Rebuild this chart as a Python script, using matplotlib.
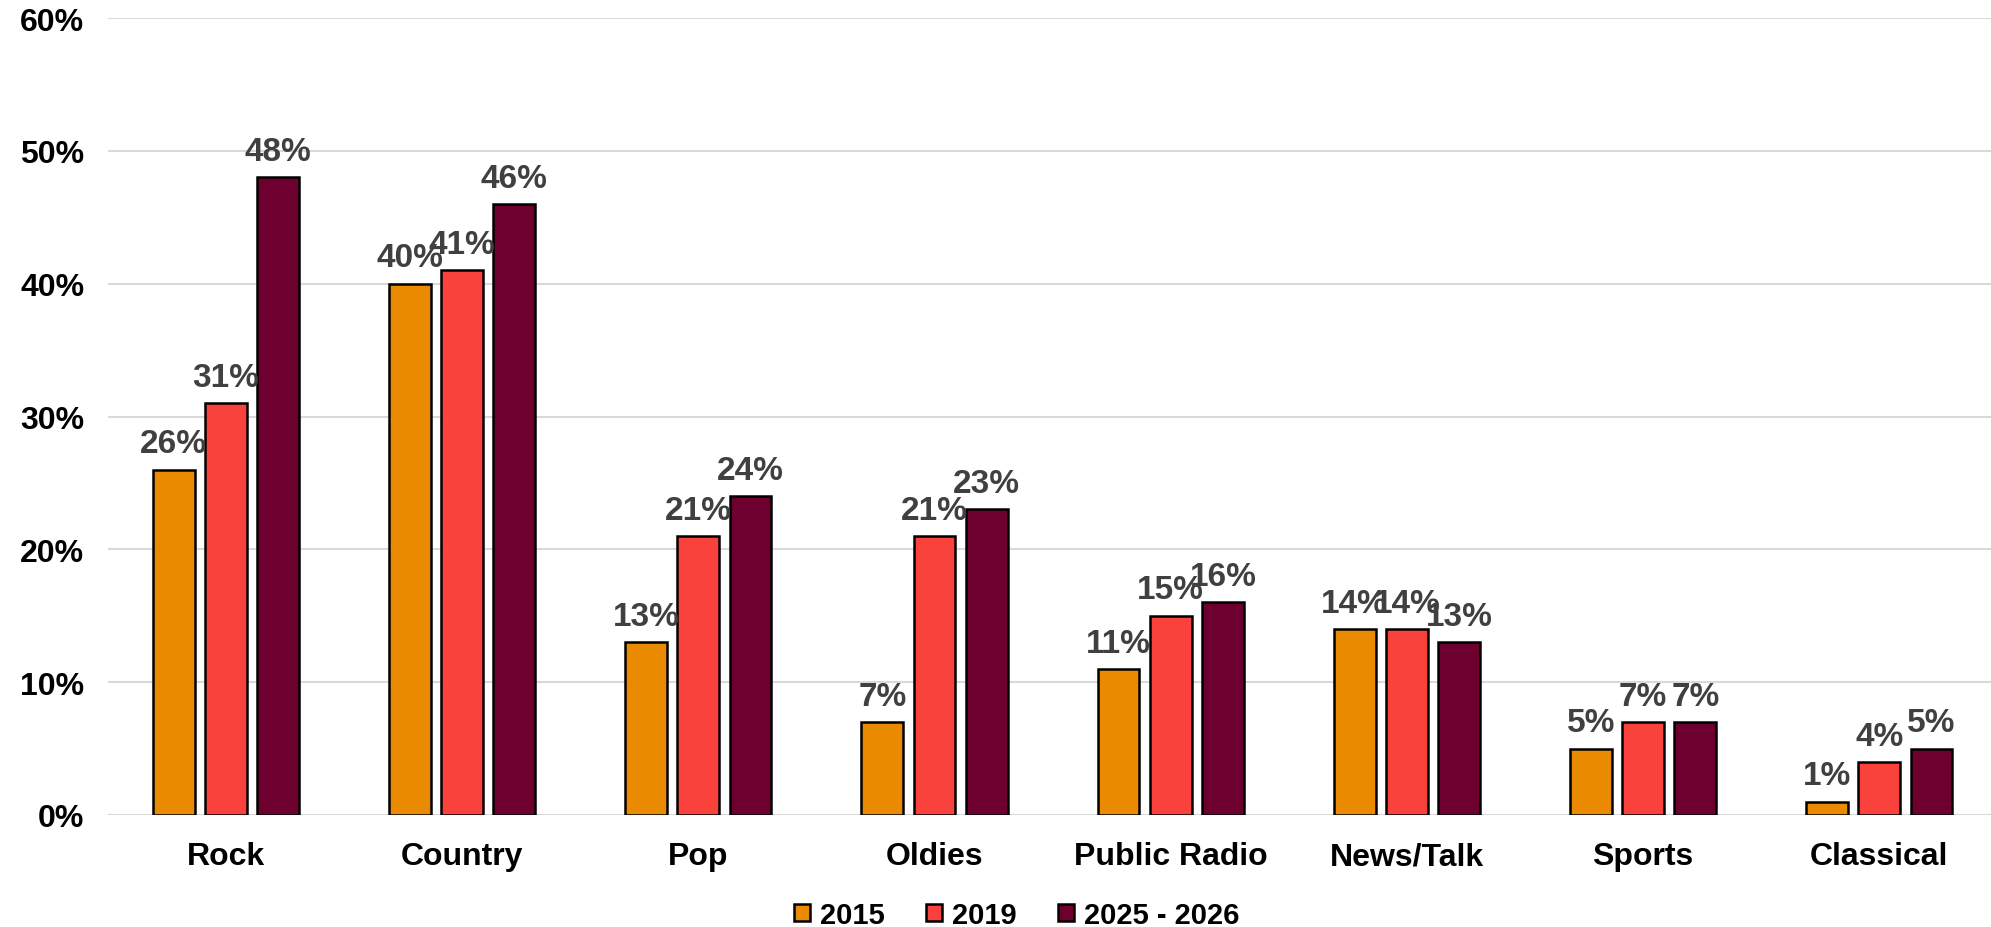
import numpy as np
import matplotlib.pyplot as plt

plt.rcParams['font.family'] = ['Liberation Sans', 'DejaVu Sans']
plt.rcParams['font.weight'] = 'bold'

genres = ["Rock", "Country", "Pop", "Oldies", "Public Radio", "News/Talk", "Sports", "Classical"]
v2015 = [26, 40, 13, 7, 11, 14, 5, 1]
v2019 = [31, 41, 21, 21, 15, 14, 7, 4]
v2025 = [48, 46, 24, 23, 16, 13, 7, 5]
series = ["2015", "2019", "2025 - 2026"]
colors = ["#EA8A00", "#FA423D", "#6E0030"]

fig = plt.figure(figsize=(19.91, 9.28), dpi=100)
# plot area runs off the right edge a little, like the original
ax = fig.add_axes([0.0542, 0.1207, 0.949, 0.8588])

x = np.arange(len(genres))
w = 0.177
step = 0.221
for i, (vals, name, c) in enumerate(zip([v2015, v2019, v2025], series, colors)):
    bars = ax.bar(x + (i - 1) * step, vals, w, color=c, edgecolor="black",
                  linewidth=1.8, label=name, zorder=3)
    for b, v in zip(bars, vals):
        ax.text(b.get_x() + b.get_width() / 2, v + 1.3, f"{v}%", ha="center",
                va="baseline", fontsize=24, fontweight="bold", color="#404040", zorder=4)

ax.set_xlim(-0.5, len(genres) - 0.5)
ax.set_ylim(0, 60)
ax.set_yticks(range(0, 61, 10))
ax.set_yticklabels([f"{t}%" for t in range(0, 61, 10)], fontsize=23, fontweight="bold")
ax.set_xticks(x)
ax.set_xticklabels(genres, fontsize=23, fontweight="bold")
ax.tick_params(length=0)
ax.tick_params(axis="x", pad=19)
ax.tick_params(axis="y", pad=17)
ax.grid(axis="y", color="#D9D9D9", linewidth=1.5, zorder=0)
for s in ax.spines.values():
    s.set_visible(False)

ax.legend(loc="lower center", bbox_to_anchor=(0.481, -0.176), ncol=3, frameon=False,
          prop={"size": 21, "weight": "bold"}, handlelength=0.55, handleheight=0.55,
          handletextpad=0.35, columnspacing=1.4)

fig.savefig("out.png", dpi=100)
